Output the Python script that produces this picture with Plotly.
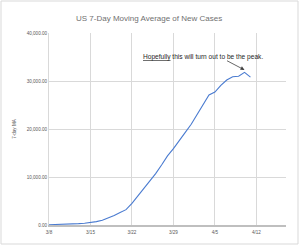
import plotly.graph_objects as go
import pandas as pd

dates = pd.date_range("2020-03-08", "2020-04-11", freq="D").strftime("%Y-%m-%d").tolist()
ma7 = [60, 80, 110, 150, 200, 280, 380, 500, 700, 1000, 1450, 2000, 2600, 3200,
       4500, 6000, 7500, 9000, 10700, 12500, 14400, 15900, 17500, 19300, 21000,
       23000, 25000, 27100, 27700, 29100, 30200, 30900, 31000, 31800, 30800]
title = "US 7-Day Moving Average of New Cases"
y_title = "7-day MA"
note = "<u>Hopefully</u> this will turn out to be the peak."
peak_date = "2020-04-10"

FONT = "Liberation Sans"
GRAY = "#595959"

fig = go.Figure()
fig.add_trace(go.Scatter(x=dates, y=ma7, mode="lines",
                         line=dict(color="#4a7bd0", width=1.1), showlegend=False))

fig.update_layout(
    width=300, height=247,
    margin=dict(l=49, r=14, t=33, b=22),
    paper_bgcolor="white", plot_bgcolor="white",
    title=dict(text=title, x=0.497, xanchor="center", y=0.925, yanchor="middle",
               font=dict(family=FONT, size=8.0, color="#707070")),
    font=dict(family=FONT, color=GRAY),
)
fig.update_xaxes(type="date", range=["2020-03-08", "2020-04-17"],
                 tick0="2020-03-08", dtick=7 * 86400000, tickformat="%-m/%-d",
                 showgrid=True, gridcolor="#d9d9d9", gridwidth=1,
                 showline=True, linecolor="#bfbfbf", linewidth=1.5,
                 ticks="", tickfont=dict(size=4.6, color=GRAY), ticklabelstandoff=2)
fig.update_yaxes(range=[0, 40000], dtick=10000, tickformat=",.2f",
                 showgrid=True, gridcolor="#d9d9d9", gridwidth=1,
                 zeroline=False, showline=True, linecolor="#d9d9d9", linewidth=1,
                 ticks="", tickfont=dict(size=4.6, color=GRAY),
                 title=dict(text=y_title, font=dict(size=4.6, color=GRAY), standoff=10))

fig.add_annotation(x=0.65, y=1.0 - (57 - 33) / 192.0, xref="paper", yref="paper",
                   text=note, showarrow=False, xanchor="center", yanchor="middle",
                   font=dict(family=FONT, size=6.6, color="#262626"))
fig.add_annotation(x=peak_date, y=32300, xref="x", yref="y", text="",
                   showarrow=True, axref="pixel", ayref="pixel", ax=-19, ay=-10,
                   arrowhead=2, arrowsize=1, arrowwidth=0.8, arrowcolor="#404040")

fig.add_shape(type="rect", xref="paper", yref="paper",
              x0=-49 / 237 + 1 / 237, x1=1 + 12 / 237, y0=-(22 - 3) / 192, y1=1 + 32 / 192,
              line=dict(color="#d9d9d9", width=1))

fig.write_html("out.html")
